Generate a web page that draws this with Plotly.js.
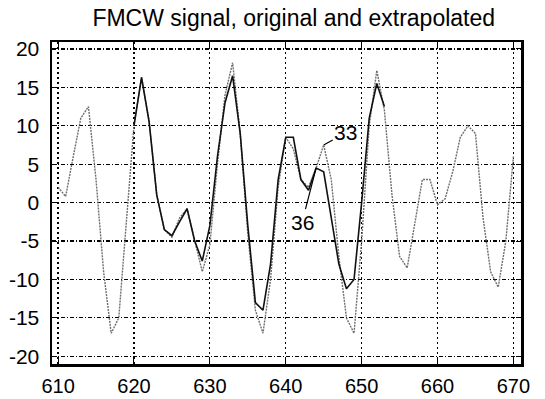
<!DOCTYPE html>
<html>
<head>
<meta charset="utf-8">
<script src="https://cdn.plot.ly/plotly-3.0.1.min.js"></script>
<style>html,body{margin:0;padding:0;background:#fff;}#chart{width:545px;height:399px;}</style>
</head>
<body>
<div id="chart"></div>
<script>
// Original signal (gray)
const xOriginal = [610,611,612,613,614,615,616,617,618,619,620,621,622,623,624,625,626,627,628,629,630,631,632,633,634,635,636,637,638,639,640,641,642,643,644,645,646,647,648,649,650,651,652,653,654,655,656,657,658,659,660,661,662,663,664,665,666,667,668,669,670];
const yOriginal = [2,0.8,6,11,12.5,3,-9,-17,-15,-3,10,16.3,10.5,1,-3.5,-4.5,-2,-0.8,-5,-9,-5.5,5,14,18.2,9,-4,-14,-17,-10,2,8.5,7,3,2,4.5,7.5,3,-7,-15,-17,-5,10,17.2,12,1,-7,-8.5,-3,3,3,-0.3,0.5,4,8.5,10,9,-2,-9,-11,-5,6];
// Extrapolated signal (black)
const xExtrap = [620,621,622,623,624,625,626,627,628,629,630,631,632,633,634,635,636,637,638,639,640,641,642,643,644,645,646,647,648,649,650,651,652,653];
const yExtrap = [10,16.3,10.5,1,-3.5,-4.3,-2.5,-0.8,-5,-7.6,-3,6,13,16.5,9,-3,-13,-14,-8,3,8.5,8.5,3,1.6,4.5,4,-2,-8,-11.2,-10,0,11,15.5,12.5];
// Axis ticks
const xTickVals = [610,620,630,640,650,660,670];
const xTickText = ['610','620','630','640','650','660','670'];
const yTickVals = [-20,-15,-10,-5,0,5,10,15,20];
const yTickText = ['-20','-15','-10','-5','0','5','10','15','20'];
// Annotation labels
const labelNames = ['33','36'];
const labelX = [645, 644];

const font = 'Liberation Sans, Arial, sans-serif';

const traces = [
  {x: xOriginal, y: yOriginal, type: 'scatter', mode: 'lines',
   line: {color: '#6e6e6e', width: 1.4, dash: '2px,1px'}, hoverinfo: 'skip'},
  {x: xExtrap, y: yExtrap, type: 'scatter', mode: 'lines',
   line: {color: '#111', width: 1.6}, hoverinfo: 'skip'}
];

const axisCommon = {
  showgrid: true, gridcolor: '#000', gridwidth: 1.2,
  showline: true, linecolor: '#000', linewidth: 2.5, mirror: 'ticks',
  ticks: 'inside', ticklen: 5, tickcolor: '#000', tickwidth: 1,
  zeroline: false, tickfont: {family: font, size: 20, color: '#000'}
};

const layout = {
  width: 545, height: 399,
  margin: {l: 52, r: 24, t: 42, b: 35},
  paper_bgcolor: '#fff', plot_bgcolor: '#fff',
  showlegend: false,
  title: {text: 'FMCW signal, original and extrapolated', font: {family: font, size: 23, color: '#000'},
          x: 0.539, xanchor: 'center', y: 0.955, yanchor: 'middle'},
  xaxis: Object.assign({}, axisCommon, {range: [609.2, 671.0], tickvals: xTickVals, ticktext: xTickText,
          griddash: '2px,3px', ticklabelstandoff: 2}),
  yaxis: Object.assign({}, axisCommon, {range: [-21.0, 20.9], tickvals: yTickVals, ticktext: yTickText,
          griddash: '4px,2px,1px,2px', ticklabelstandoff: 6,
          tickfont: {family: font, size: 21, color: '#000'}}),
  annotations: [
    {x: labelX[0], y: yOriginal[xOriginal.indexOf(labelX[0])], text: labelNames[0], showarrow: true,
     arrowhead: 0, arrowwidth: 1.2, arrowcolor: '#000', ax: 22, ay: -12, standoff: 0,
     font: {family: font, size: 21, color: '#000'}},
    {x: labelX[1], y: yExtrap[xExtrap.indexOf(labelX[1])], text: labelNames[1], showarrow: true,
     arrowhead: 0, arrowwidth: 1.2, arrowcolor: '#000', ax: -14, ay: 54, standoff: 0,
     font: {family: font, size: 21, color: '#000'}}
  ]
};

Plotly.newPlot('chart', traces, layout, {staticPlot: true, displayModeBar: false});
</script>
</body>
</html>
